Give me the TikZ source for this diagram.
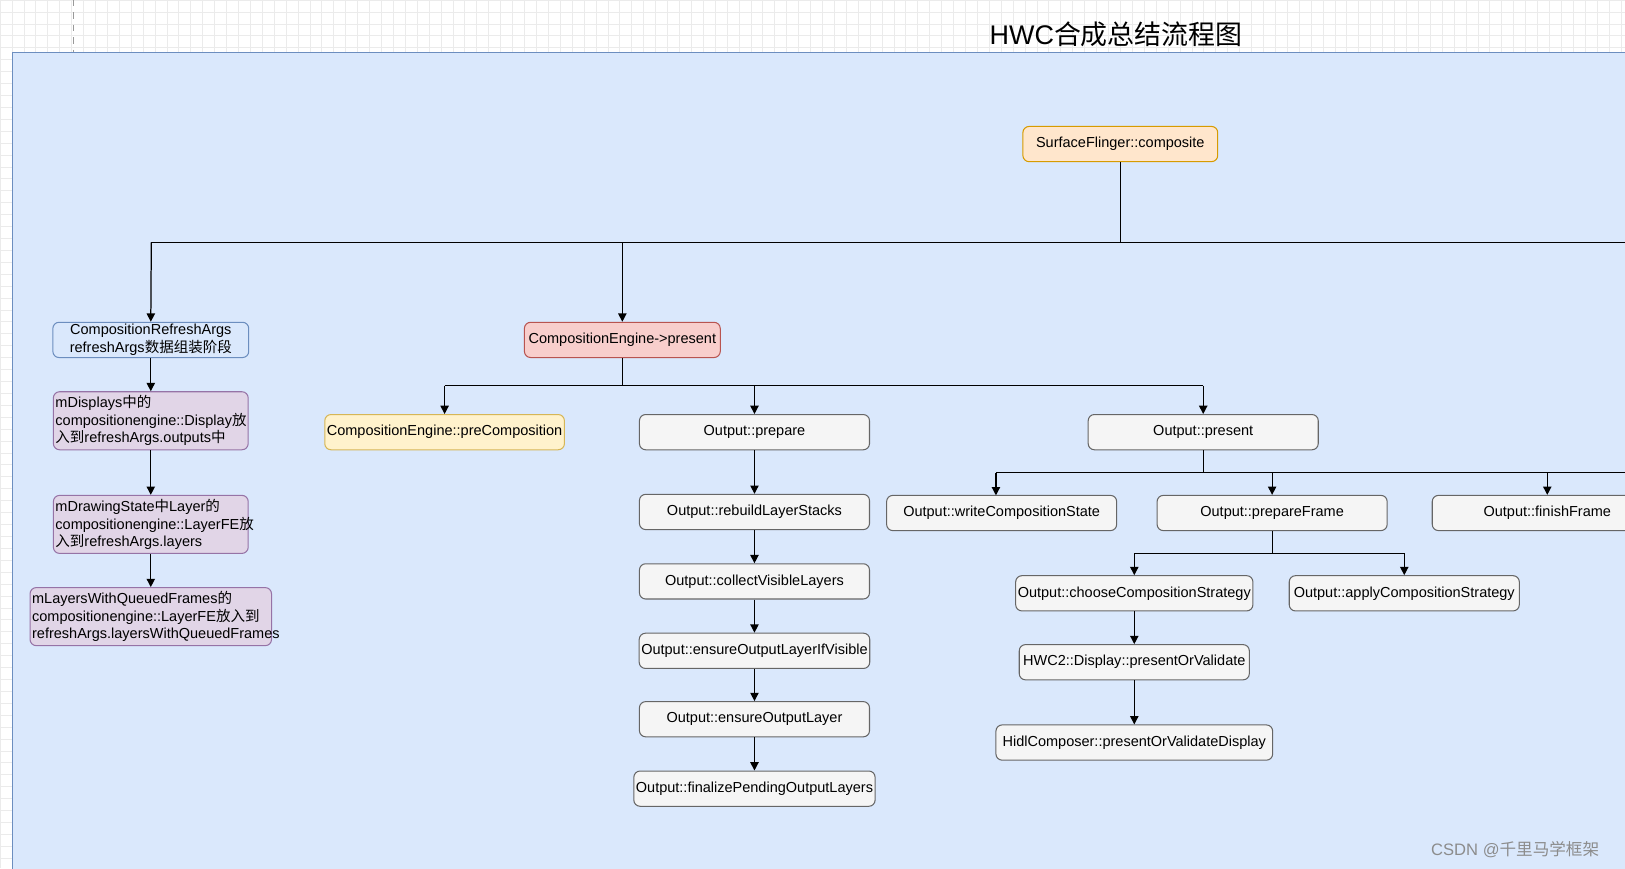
\documentclass[tikz,border=0pt]{standalone}
\usepackage{fontspec}
\setmainfont{Liberation Sans}
\newfontfamily\cjk{Noto Sans CJK SC}
\usetikzlibrary{arrows.meta}
\definecolor{bgb}{HTML}{DAE8FC}\definecolor{bgbd}{HTML}{6C8EBF}
\definecolor{org}{HTML}{FFE6CC}\definecolor{orgd}{HTML}{D79B00}
\definecolor{red1}{HTML}{F8CECC}\definecolor{red1d}{HTML}{B85450}
\definecolor{pur}{HTML}{E1D5E7}\definecolor{purd}{HTML}{9673A6}
\definecolor{yel}{HTML}{FFF2CC}\definecolor{yeld}{HTML}{D6B656}
\definecolor{gry}{HTML}{F5F5F5}\definecolor{gryd}{HTML}{666666}
\begin{document}
\begin{tikzpicture}[x=0.5pt,y=-0.5pt,
 box/.style={draw=gryd,fill=gry,rounded corners=3pt,line width=0.5pt,font=\fontsize{7}{8.5}\selectfont,inner sep=1pt,anchor=center},
 ar/.style={-{Triangle[length=4pt,width=4pt]},line width=0.6pt},
 ln/.style={line width=0.6pt}]
\useasboundingbox (0,0) rectangle (1568,838);
\begin{scope}
\clip (0,0) rectangle (1568,838);
\foreach \x in {0,11.5,...,1568} \draw[black!8,line width=0.3pt] (\x,0)--(\x,51);
\foreach \y in {0,11.5,...,51} \draw[black!8,line width=0.3pt] (0,\y)--(1568,\y);
\foreach \x in {0,11.5} \draw[black!8,line width=0.3pt] (\x,51)--(\x,838);
\foreach \y in {57.5,69,...,838} \draw[black!8,line width=0.3pt] (0,\y)--(12,\y);
\draw[black!40,dashed,line width=0.4pt] (71,0)--(71,51);
\draw[fill=bgb,draw=bgbd,line width=0.6pt] (12,51) rectangle (1600,860);
\node (title) at (1077,33) {\fontsize{13}{15}\selectfont HWC{\cjk 合成总结流程图}};

\node[box,draw=orgd,fill=org,minimum width=94pt,minimum height=17pt] (sf) at (1081,139) {SurfaceFlinger::composite};
\node[box,draw=bgbd,fill=bgb,minimum width=94.5pt,minimum height=17pt,align=center] (cra) at (145.5,328) {CompositionRefreshArgs\\refreshArgs{\cjk 数据组装阶段}};
\node[box,draw=red1d,fill=red1,minimum width=94.5pt,minimum height=17pt] (cep) at (600.5,328) {CompositionEngine->present};
\node[box,draw=purd,fill=pur,text width=92pt,minimum height=28pt,align=left] (p1) at (145.5,406) {mDisplays{\cjk 中的}\\compositionengine::Display{\cjk 放}\\{\cjk 入到}refreshArgs.outputs{\cjk 中}};
\node[box,draw=purd,fill=pur,text width=92pt,minimum height=28pt,align=left] (p2) at (145.5,506) {mDrawingState{\cjk 中}Layer{\cjk 的}\\compositionengine::LayerFE{\cjk 放}\\{\cjk 入到}refreshArgs.layers};
\node[box,draw=purd,fill=pur,text width=114.5pt,minimum height=28pt,align=left] (p3) at (145.5,595) {mLayersWithQueuedFrames{\cjk 的}\\compositionengine::LayerFE{\cjk 放入到}\\refreshArgs.layersWithQueuedFrames};

\tikzset{ob/.style={box,minimum width=111pt,minimum height=17pt}}
\node[ob,draw=yeld,fill=yel] (pre) at (429,417) {CompositionEngine::preComposition};
\node[ob] (op) at (728,417) {Output::prepare};
\node[ob] (o1) at (728,494) {Output::rebuildLayerStacks};
\node[ob] (o2) at (728,561) {Output::collectVisibleLayers};
\node[ob] (o3) at (728,628) {Output::ensureOutputLayerIfVisible};
\node[ob] (o4) at (728,694) {Output::ensureOutputLayer};
\node[ob] (o5) at (728,761) {Output::finalizePendingOutputLayers};
\node[ob] (opr) at (1161,417) {Output::present};
\node[ob] (wcs) at (966.5,495) {Output::writeCompositionState};
\node[ob] (pf) at (1227.5,495) {Output::prepareFrame};
\node[ob] (ff) at (1493,495) {Output::finishFrame};
\node[ob] (ccs) at (1094.5,572.5) {Output::chooseCompositionStrategy};
\node[ob] (acs) at (1355,572.5) {Output::applyCompositionStrategy};
\node[ob] (hwc) at (1094.5,639) {HWC2::Display::presentOrValidate};
\node[box,minimum width=133.5pt,minimum height=17pt] (hidl) at (1094.5,716.5) {HidlComposer::presentOrValidateDisplay};

\coordinate (j1) at (1081,234);
\draw[ln] (sf.south)--(j1);
\draw[ln] (146,234)--(1600,234);
\draw[ar] (146,234)--(cra.north);
\draw[ar] (600.5,234)--(cep.north);
\draw[ar] (cra)--(p1); \draw[ar] (p1)--(p2); \draw[ar] (p2)--(p3);
\draw[ln] (cep.south)--(600.5,372);
\draw[ln] (429,372)--(1161,372);
\draw[ar] (429,372)--(pre.north);
\draw[ar] (728,372)--(op.north);
\draw[ar] (1161,372)--(opr.north);
\draw[ar] (op)--(o1); \draw[ar] (o1)--(o2); \draw[ar] (o2)--(o3); \draw[ar] (o3)--(o4); \draw[ar] (o4)--(o5);
\draw[ln] (opr.south)--(1161,456);
\draw[ln] (961,456)--(1600,456);
\draw[ar] (961,456)--(961,478);
\draw[ar] (1227.5,456)--(pf.north);
\draw[ar] (1493,456)--(ff.north);
\draw[ln] (pf.south)--(1227.5,534);
\draw[ln] (1094.5,534)--(1355,534);
\draw[ar] (1094.5,534)--(ccs.north);
\draw[ar] (1355,534)--(acs.north);
\draw[ar] (ccs)--(hwc); \draw[ar] (hwc)--(hidl);
\node[text=black!45,font=\fontsize{8}{9}\selectfont] (wm) at (1462,820) {CSDN @{\cjk 千里马学框架}};
\end{scope}
\end{tikzpicture}
\end{document}
